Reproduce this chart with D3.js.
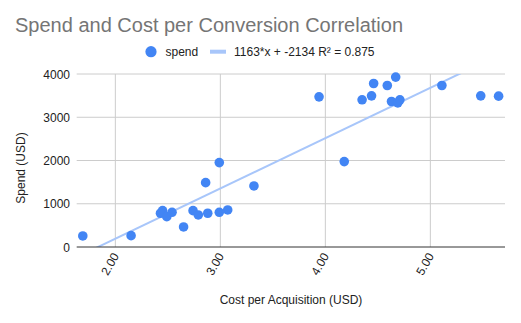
<!DOCTYPE html>
<html>
<head>
<meta charset="utf-8">
<script src="https://d3js.org/d3.v7.min.js"></script>
<style>
  body { margin: 0; background: #fff; }
  svg { display: block; font-family: "Liberation Sans", Arial, sans-serif; }
</style>
</head>
<body>
<div id="chart"></div>
<script>
// cost per acquisition (USD) vs spend (USD)
const cpa = [1.69, 2.15, 2.45, 2.43, 2.49, 2.54, 2.65, 2.74, 2.79, 2.86, 2.88, 2.99, 2.99, 3.07, 3.32,
             3.94, 4.18, 4.35, 4.44, 4.46, 4.59, 4.67, 4.63, 4.69, 4.71, 5.11, 5.48, 5.65];
const spend = [255, 262, 840, 780, 702, 803, 463, 840, 741, 1488, 780, 1951, 803, 856, 1412,
               3472, 1975, 3403, 3495, 3780, 3734, 3928, 3364, 3333, 3403, 3734, 3495, 3488];
const xTicks = [2, 3, 4, 5];
const yTicks = [0, 1000, 2000, 3000, 4000];
const slope = 1163, intercept = -2134, r2 = 0.875;

const width = 521, height = 323;
const plotLeft = 76.7, plotRight = 505, plotTop = 74, plotBottom = 247;

const svg = d3.select('#chart').append('svg')
    .attr('width', width)
    .attr('height', height);

const x = d3.scaleLinear().domain([1.632, 5.711]).range([plotLeft, plotRight]);
const y = d3.scaleLinear().domain([0, 4000]).range([plotBottom, plotTop]);

svg.append('text')
    .attr('x', 15)
    .attr('y', 31.5)
    .attr('font-size', 20)
    .attr('fill', '#757575')
    .text('Spend and Cost per Conversion Correlation');

// legend
const legend = svg.append('g');
legend.append('circle').attr('cx', 151).attr('cy', 51.7).attr('r', 5.6).attr('fill', '#4285f4');
legend.append('text').attr('x', 165.5).attr('y', 56).attr('font-size', 12).attr('fill', '#222').text('spend');
legend.append('line').attr('x1', 210).attr('x2', 226).attr('y1', 51.7).attr('y2', 51.7)
    .attr('stroke', '#a8c6fa').attr('stroke-width', 4);
legend.append('text').attr('x', 234).attr('y', 56).attr('font-size', 12).attr('fill', '#222')
    .text(`${slope}*x + ${intercept} R² = ${r2}`);

// gridlines
svg.append('g').selectAll('line').data(yTicks.filter(d => d > 0)).join('line')
    .attr('x1', plotLeft).attr('x2', plotRight)
    .attr('y1', d => y(d)).attr('y2', d => y(d))
    .attr('stroke', '#ccc').attr('stroke-width', 1);
svg.append('g').selectAll('line').data(xTicks).join('line')
    .attr('x1', d => x(d)).attr('x2', d => x(d))
    .attr('y1', plotTop).attr('y2', plotBottom)
    .attr('stroke', '#ccc').attr('stroke-width', 1);

// y tick labels
svg.append('g').selectAll('text').data(yTicks).join('text')
    .attr('x', 70)
    .attr('y', d => y(d) + 4.5)
    .attr('text-anchor', 'end')
    .attr('font-size', 12)
    .attr('fill', '#222')
    .text(d => d);

// x tick labels, rotated
svg.append('g').selectAll('text').data(xTicks).join('text')
    .attr('text-anchor', 'end')
    .attr('font-size', 12)
    .attr('fill', '#222')
    .attr('transform', d => `translate(${x(d) + 4},${plotBottom + 9}) rotate(-60)`)
    .text(d3.format('.2f'));

// trendline, clipped to the plot area
svg.append('clipPath').attr('id', 'plot-clip')
    .append('rect').attr('x', plotLeft).attr('y', plotTop)
    .attr('width', plotRight - plotLeft).attr('height', plotBottom - plotTop);
const xs = x.domain();
svg.append('line')
    .attr('clip-path', 'url(#plot-clip)')
    .attr('x1', x(xs[0])).attr('y1', y(slope * xs[0] + intercept))
    .attr('x2', x(xs[1])).attr('y2', y(slope * xs[1] + intercept))
    .attr('stroke', '#a8c6fa').attr('stroke-width', 2);

// baseline
svg.append('line')
    .attr('x1', plotLeft).attr('x2', plotRight)
    .attr('y1', plotBottom).attr('y2', plotBottom)
    .attr('stroke', '#333').attr('stroke-width', 1);

// points
svg.append('g').selectAll('circle').data(cpa.map((c, i) => [c, spend[i]])).join('circle')
    .attr('cx', d => x(d[0]))
    .attr('cy', d => y(d[1]))
    .attr('r', 4.8)
    .attr('fill', '#4285f4');

// axis titles
svg.append('text')
    .attr('x', 291).attr('y', 304)
    .attr('text-anchor', 'middle')
    .attr('font-size', 12)
    .attr('fill', '#222')
    .text('Cost per Acquisition (USD)');
svg.append('text')
    .attr('transform', 'translate(25,168) rotate(-90)')
    .attr('text-anchor', 'middle')
    .attr('font-size', 12)
    .attr('fill', '#222')
    .text('Spend (USD)');
</script>
</body>
</html>
